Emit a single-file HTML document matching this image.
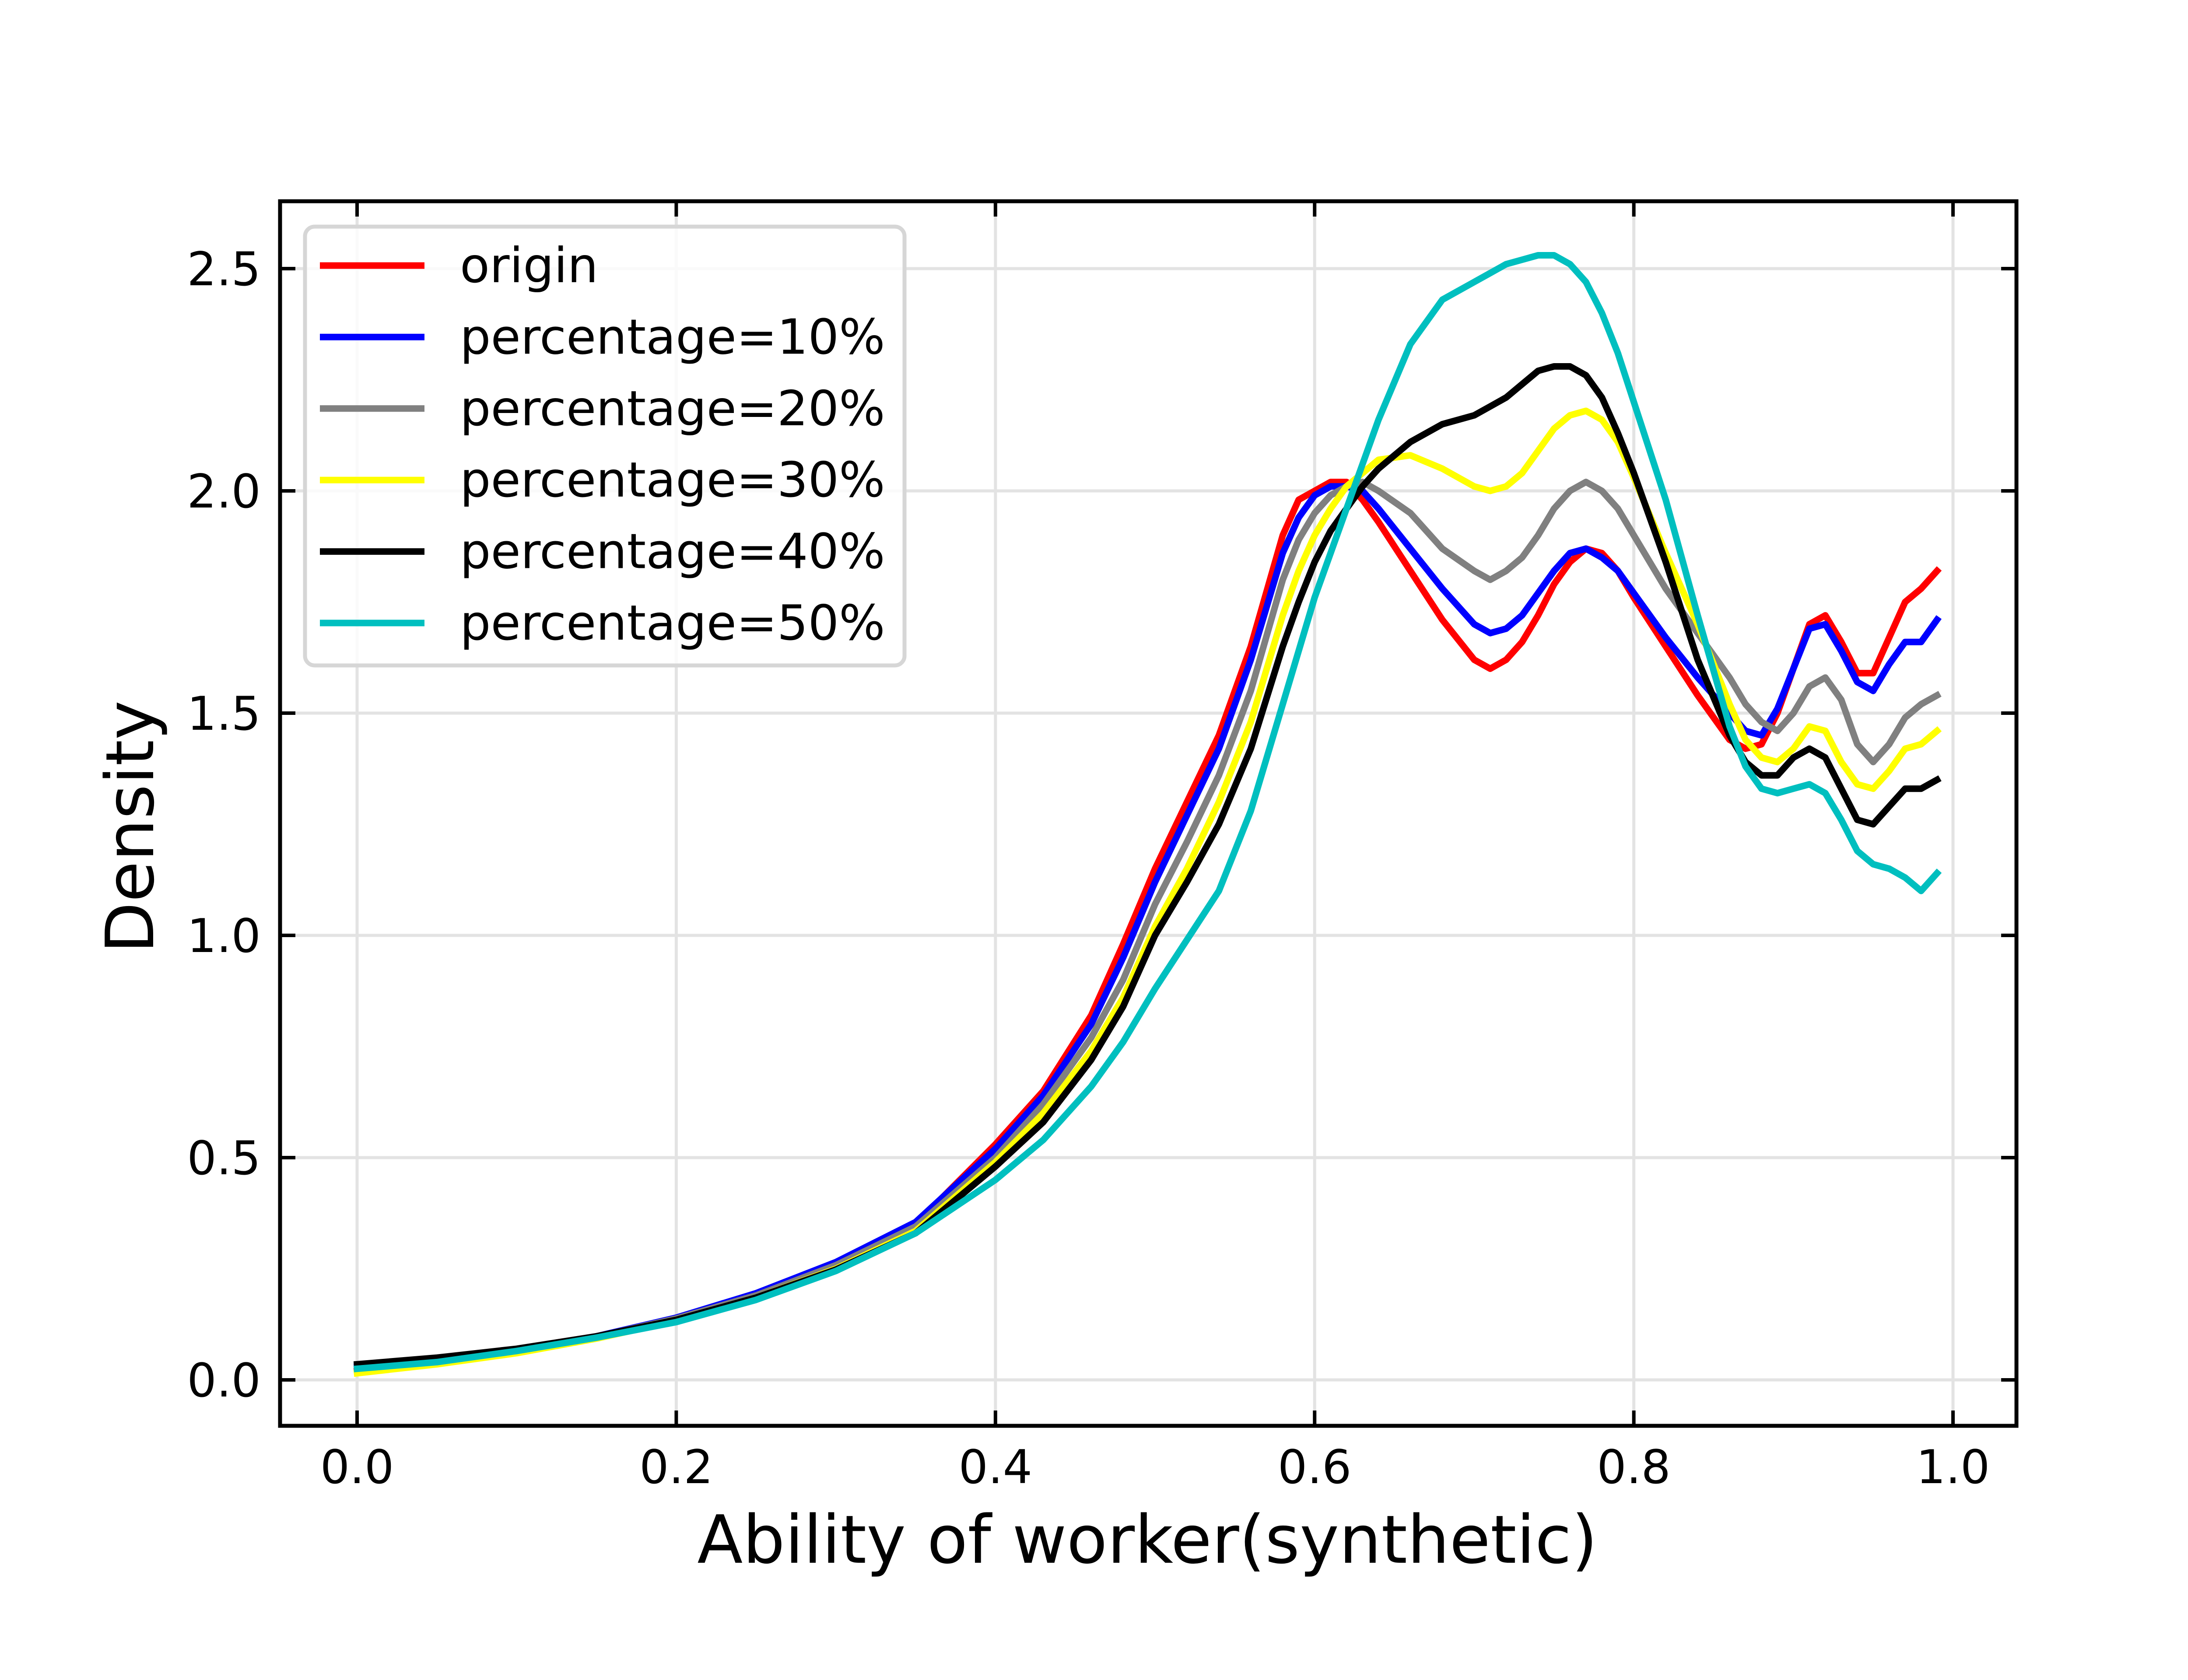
<!DOCTYPE html>
<html><head><meta charset="utf-8"><style>html,body{margin:0;padding:0;background:#fff}svg{display:block}</style></head>
<body>
<svg id="chart" xmlns="http://www.w3.org/2000/svg" width="5120" height="3840" viewBox="0 0 5120 3840" font-family="'DejaVu Sans','Liberation Sans',sans-serif">
<rect width="5120" height="3840" fill="#fff"/>
<g id="grid"></g><g id="series"></g><g id="axes"></g><g id="legend"></g>
</svg>
<script>
const xs=[0,0.05,0.1,0.15,0.2,0.25,0.3,0.35,0.4,0.43,0.46,0.48,0.5,0.52,0.54,0.56,0.58,0.59,0.6,0.61,0.62,0.63,0.64,0.66,0.68,0.7,0.71,0.72,0.73,0.74,0.75,0.76,0.77,0.78,0.79,0.8,0.82,0.84,0.86,0.87,0.88,0.89,0.9,0.91,0.92,0.93,0.94,0.95,0.96,0.97,0.98,0.99];
const origin=[0.02,0.04,0.065,0.095,0.135,0.19,0.26,0.35,0.53,0.65,0.82,0.98,1.15,1.3,1.45,1.65,1.9,1.98,2.0,2.02,2.02,1.98,1.93,1.82,1.71,1.62,1.60,1.62,1.66,1.72,1.79,1.84,1.87,1.86,1.82,1.76,1.65,1.54,1.44,1.42,1.43,1.50,1.60,1.70,1.72,1.66,1.59,1.59,1.67,1.75,1.78,1.82];
const p10=[0.03,0.045,0.068,0.098,0.14,0.195,0.265,0.355,0.52,0.64,0.8,0.95,1.12,1.27,1.42,1.62,1.86,1.94,1.99,2.01,2.01,2.0,1.96,1.87,1.78,1.70,1.68,1.69,1.72,1.77,1.82,1.86,1.87,1.85,1.82,1.77,1.67,1.58,1.50,1.46,1.45,1.51,1.60,1.69,1.70,1.64,1.57,1.55,1.61,1.66,1.66,1.71];
const p20=[0.025,0.042,0.066,0.097,0.138,0.19,0.258,0.345,0.5,0.62,0.77,0.9,1.07,1.21,1.36,1.55,1.8,1.89,1.95,1.99,2.01,2.02,2.0,1.95,1.87,1.82,1.80,1.82,1.85,1.90,1.96,2.0,2.02,2.0,1.96,1.90,1.78,1.68,1.58,1.52,1.48,1.46,1.50,1.56,1.58,1.53,1.43,1.39,1.43,1.49,1.52,1.54];
const p30=[0.015,0.035,0.06,0.093,0.133,0.185,0.25,0.335,0.49,0.6,0.74,0.86,1.02,1.15,1.3,1.48,1.72,1.82,1.90,1.96,2.01,2.04,2.07,2.08,2.05,2.01,2.0,2.01,2.04,2.09,2.14,2.17,2.18,2.16,2.11,2.03,1.86,1.70,1.52,1.44,1.40,1.39,1.42,1.47,1.46,1.39,1.34,1.33,1.37,1.42,1.43,1.46];
const p40=[0.035,0.05,0.07,0.098,0.135,0.185,0.248,0.33,0.48,0.58,0.72,0.84,1.0,1.12,1.25,1.42,1.65,1.75,1.84,1.91,1.96,2.01,2.05,2.11,2.15,2.17,2.19,2.21,2.24,2.27,2.28,2.28,2.26,2.21,2.13,2.04,1.84,1.62,1.45,1.39,1.36,1.36,1.40,1.42,1.40,1.33,1.26,1.25,1.29,1.33,1.33,1.35];
const p50=[0.025,0.04,0.065,0.095,0.13,0.18,0.245,0.33,0.45,0.54,0.66,0.76,0.88,0.99,1.1,1.28,1.52,1.64,1.76,1.86,1.96,2.06,2.16,2.33,2.43,2.47,2.49,2.51,2.52,2.53,2.53,2.51,2.47,2.40,2.31,2.20,1.98,1.72,1.47,1.38,1.33,1.32,1.33,1.34,1.32,1.26,1.19,1.16,1.15,1.13,1.10,1.14];
const seriesNames=["origin","percentage=10%","percentage=20%","percentage=30%","percentage=40%","percentage=50%"];
const seriesColors=["#ff0000","#0000ff","#808080","#ffff00","#000000","#00bfbf"];
const xTicks=[0,0.2,0.4,0.6,0.8,1.0];
const xTickLabels=["0.0","0.2","0.4","0.6","0.8","1.0"];
const yTicks=[0,0.5,1.0,1.5,2.0,2.5];
const yTickLabels=["0.0","0.5","1.0","1.5","2.0","2.5"];

const NS="http://www.w3.org/2000/svg";
const L=640,R=4608,T=460,B=3259;
function sx(v){return 816+v*3647;}
function sy(v){return 3154-v*1016;}
function mk(tag,attrs,parent,text){const e=document.createElementNS(NS,tag);for(const k in attrs)e.setAttribute(k,attrs[k]);if(text!==undefined)e.textContent=text;parent.appendChild(e);return e;}
const grid=document.getElementById('grid'),ser=document.getElementById('series'),axes=document.getElementById('axes'),leg=document.getElementById('legend');
xTicks.forEach(v=>{const g=mk('line',{x1:sx(v),x2:sx(v),y1:T,y2:B,stroke:'#e3e3e3','stroke-width':7},grid);

});
yTicks.forEach(v=>{const g=mk('line',{x1:L,x2:R,y1:sy(v),y2:sy(v),stroke:'#e3e3e3','stroke-width':7},grid);

});
const data=[origin,p10,p20,p30,p40,p50];
data.forEach((arr,i)=>{const d=arr.map((v,j)=>(j?'L':'M')+sx(xs[j]).toFixed(1)+' '+sy(v).toFixed(1)).join(' ');
const p=mk('path',{d:d,fill:'none',stroke:seriesColors[i],'stroke-width':15,'stroke-linejoin':'round','stroke-linecap':'square'},ser);

});
const fr=mk('rect',{x:L,y:T,width:R-L,height:B-T,fill:'none',stroke:'#000','stroke-width':9},axes);


xTicks.forEach((v,i)=>{const x=sx(v);
mk('line',{x1:x,x2:x,y1:B,y2:B-35,stroke:'#000','stroke-width':8},axes);
mk('line',{x1:x,x2:x,y1:T,y2:T+35,stroke:'#000','stroke-width':8},axes);
const t=mk('text',{x:x,y:3390,'font-size':106,'text-anchor':'middle',fill:'#000'},axes,xTickLabels[i]);

});
yTicks.forEach((v,i)=>{const y=sy(v);
mk('line',{x1:L,x2:L+35,y1:y,y2:y,stroke:'#000','stroke-width':8},axes);
mk('line',{x1:R,x2:R-35,y1:y,y2:y,stroke:'#000','stroke-width':8},axes);
const t=mk('text',{x:596,y:y+38,'font-size':106,'text-anchor':'end',fill:'#000'},axes,yTickLabels[i]);

});
const xt=mk('text',{x:2622,y:3572,'font-size':152,'text-anchor':'middle',fill:'#000'},axes,'Ability of worker(synthetic)');


const yt=mk('text',{x:0,y:0,'font-size':152,'text-anchor':'middle',fill:'#000',transform:'translate(350,1890) rotate(-90)'},axes,'Density');


const lb=mk('rect',{x:697,y:518,width:1370,height:1003,rx:22,fill:'#fff','fill-opacity':0.8,stroke:'#d6d6d6','stroke-width':9},leg);


seriesNames.forEach((n,i)=>{const y=607+i*163.4;
const g=mk('g',{},leg);


mk('line',{x1:731,x2:970,y1:y,y2:y,stroke:seriesColors[i],'stroke-width':15},g);
mk('text',{x:1051,y:y+38,'font-size':111,fill:'#000'},g,n);});
</script>
</body></html>
